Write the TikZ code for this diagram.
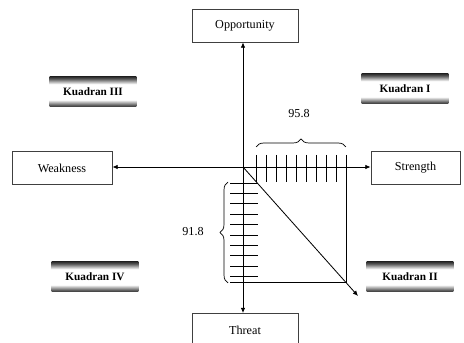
\documentclass[tikz,border=0pt]{standalone}
\usepackage{fontspec}
\setmainfont{Liberation Serif}
\usetikzlibrary{
    arrows.meta,
    decorations.pathreplacing,
    calc
}
\pgfdeclareverticalshading{kuadran shade}{100bp}{
    color(0bp)=(black!80); color(25bp)=(black!80); color(28bp)=(black!65);
    color(37bp)=(white); color(63bp)=(white);
    color(72bp)=(black!65); color(75bp)=(black!80); color(100bp)=(black!80)
}
\tikzset {
    side box/.style = {
        draw = black!75,
        line width = 0.8pt,
        fill = white,
        inner sep = 1pt,
        minimum height = 0.99cm,
        font = \fontsize{10.4}{12}\selectfont
    },
    quadrant/.style = {
        shading = kuadran shade,
        minimum width = 2.6cm,
        minimum height = 0.9cm,
        inner sep = 1pt,
        font = \bfseries\fontsize{9.6}{11}\selectfont
    },
    main axis/.style = {line width = 0.7pt, arrows = {-Latex[length = 4.5pt, width = 4pt]}},
    tick line/.style = {line width = 0.6pt},
    value brace/.style = {
        decorate,
        decoration = {brace, amplitude = 0.24cm},
        line width = 0.6pt
    },
    value/.style = {font = \fontsize{10.4}{12}\selectfont}
}
\begin{document}
\begin{tikzpicture}[x = 0.03cm, y = -0.03cm]
            \clip (0, 0) rectangle (464, 343);
            \coordinate (o) at (243, 167);
            \coordinate (c) at (346, 282);
            \coordinate (e) at (358, 296);
            \node (opp) [side box, minimum width = 3.18cm] at (245, 25.5) {Opportunity};
            \node (thr) [side box, minimum width = 3.18cm] at (245, 330) {Threat};
            \node (weak) [side box, minimum width = 3cm] at (62, 168) {Weakness};
            \node (str) [side box, minimum width = 2.67cm] at (415.5, 168) {Strength};
            \node (q3) [quadrant] at (93, 92) {Kuadran III};
            \node (q1) [quadrant] at (405, 89) {Kuadran I};
            \node (q4) [quadrant] at (95, 277) {Kuadran IV};
            \node (q2) [quadrant] at (410, 277) {Kuadran II};
            \draw [main axis] (o) -- (o |- opp.south);
            \draw [main axis] (o) -- (o |- thr.north);
            \draw [main axis] (o) -- (o -| weak.east);
            \draw [main axis] (o) -- (o -| str.west);
            \foreach \i in {0, ..., 9}
                \draw [tick line] ($ (o) + (13 + 10*\i, -12) $) -- +(0, 27);
            \foreach \i in {0, ..., 9}
                \draw [tick line] ($ (o) + (-13, 16 + 10.4*\i) $) -- +(28, 0);
            \draw [tick line] (o -| c) -- (c) -- ($ (c -| o) + (-13, 0) $);
            \draw [main axis] (o) -- (e);
            \draw [value brace] (256, 147) -- (346, 147);
            \node (hv) [value] at (299, 114) {95.8};
            \draw [value brace] (228, 283) -- (228, 182);
            \node (vv) [value] at (193, 232) {91.8};
        \end{tikzpicture}
\end{document}
